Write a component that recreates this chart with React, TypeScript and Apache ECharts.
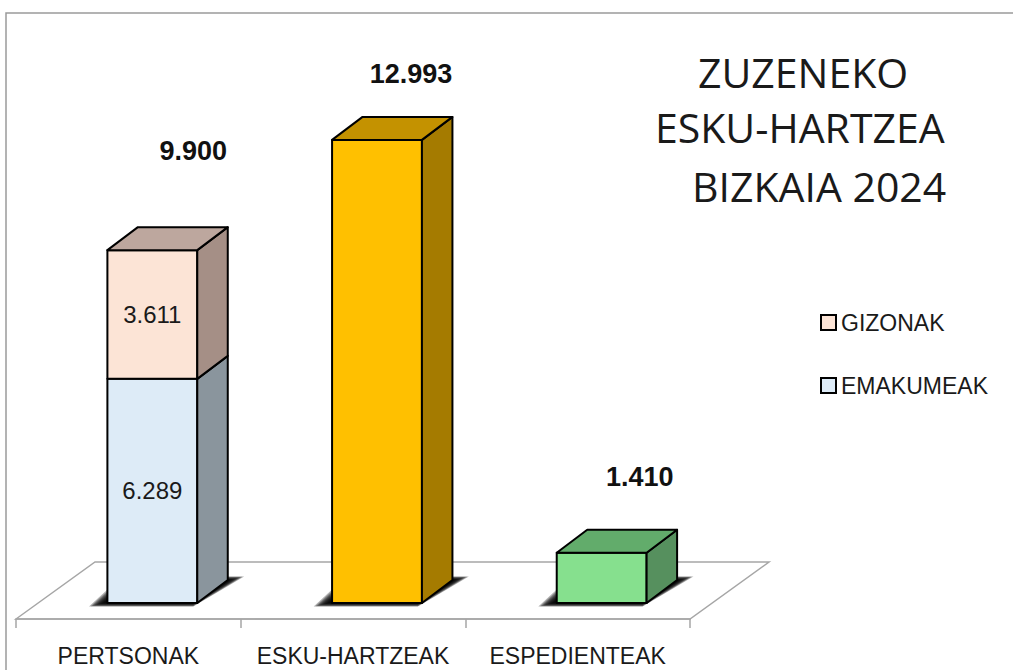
import React, { useEffect, useRef } from "react";
import * as echarts from "echarts";

// ---- data ----
const categories = ["PERTSONAK", "ESKU-HARTZEAK", "ESPEDIENTEAK"];
const emakumeak = [6289, null, null];
const gizonak = [3611, null, null];
const bakarrak = [null, 12993, 1410];
const titleLines = ["ZUZENEKO", "ESKU-HARTZEA", "BIZKAIA 2024"];
const legendNames = ["GIZONAK", "EMAKUMEAK"];

// ---- layout / style ----
const W = 1013;
const H = 670;
const BAR_GRID = { left: 40, width: 674, top: 104, bottom: 67 };
const FLOOR_GRID = { left: 16, width: 674, top: 104, bottom: 51 };
const FLOOR_DEPTH = { dx: 79, dy: -57 };
const BOX_DEPTH = { dx: 30.5, dy: -23 };
const Y_MAX = 14000;
const BAR_RATIO = 0.4;
const TOTAL_OFFSETS = [
  [41, -99],
  [34, -66],
  [38, -76],
];
const FLOOR_COLOR = "#a6a6a6";
const TEXT_COLOR = "#1a1a1a";
const SHADOW_LAYERS = 8;

const PINK = { front: "#FCE4D6", top: "#BDA79E", side: "#A58F86" };
const BLUE = { front: "#DDEBF7", top: "#A9B4BD", side: "#8A959D" };
const SINGLE_COLORS = [
  null,
  { front: "#FFC000", top: "#C49200", side: "#A57B00" },
  { front: "#86E08E", top: "#62AC6B", side: "#56905E" },
];

const fmt = (n: number) =>
  String(Math.round(n)).replace(/\B(?=(\d{3})+(?!\d))/g, ".");

type Face = { front: string; top: string; side: string };

function makeBox(
  api: any,
  face: Face,
  opts: { showTop: boolean; inner: boolean; total: boolean }
) {
  const cat = api.value(0);
  const v0 = api.value(1);
  const v1 = api.value(2);
  const pB = api.coord([cat, v0]);
  const pT = api.coord([cat, v1]);
  const band = api.size([1, 0])[0];
  const w = band * BAR_RATIO;
  const xL = pT[0] - w / 2;
  const xR = xL + w;
  const yT = pT[1];
  const yB = pB[1];
  const { dx, dy } = BOX_DEPTH;
  const stroke = { stroke: "#000", lineWidth: 2, lineJoin: "round" };
  const children: any[] = [];
  if (v0 === 0) {
    for (let k = SHADOW_LAYERS; k >= 0; k--) {
      const e = 2 + k * 1.8;
      const ev = k * 0.45;
      children.push({
        type: "polygon",
        shape: {
          points: [
            [xL - 2 - e, yB + ev],
            [xR - 4, yB + ev],
            [xR + dx + e, yB + dy - ev],
            [xL + dx - e, yB + dy - ev],
          ],
        },
        style: { fill: "rgba(0,0,0,0.3)" },
      });
    }
  }
  children.push({
    type: "rect",
    shape: { x: xL, y: yT, width: w, height: yB - yT },
    style: { fill: face.front, ...stroke },
  });
  children.push({
    type: "polygon",
    shape: {
      points: [
        [xR, yB],
        [xR + dx, yB + dy],
        [xR + dx, yT + dy],
        [xR, yT],
      ],
    },
    style: { fill: face.side, ...stroke },
  });
  if (opts.showTop) {
    children.push({
      type: "polygon",
      shape: {
        points: [
          [xL, yT],
          [xL + dx, yT + dy],
          [xR + dx, yT + dy],
          [xR, yT],
        ],
      },
      style: { fill: face.top, ...stroke },
    });
  }
  if (opts.inner) {
    children.push({
      type: "text",
      style: {
        text: fmt(v1 - v0),
        x: (xL + xR) / 2,
        y: (yT + yB) / 2,
        align: "center",
        verticalAlign: "middle",
        fontSize: 24,
        fontFamily: "Liberation Sans, Arial, sans-serif",
        fill: TEXT_COLOR,
      },
    });
  }
  if (opts.total) {
    const off = TOTAL_OFFSETS[cat];
    children.push({
      type: "text",
      style: {
        text: fmt(v1),
        x: (xL + xR) / 2 + off[0],
        y: yT + off[1],
        align: "center",
        verticalAlign: "middle",
        fontSize: 27,
        fontWeight: "bold",
        fontFamily: "Liberation Sans, Arial, sans-serif",
        fill: "#111",
      },
    });
  }
  return { type: "group", children };
}

export default function App() {
  const ref = useRef<HTMLDivElement>(null);
  useEffect(() => {
    if (!ref.current) return;
    const chart = echarts.init(ref.current, null, { renderer: "svg" });

    const emaData: any[] = [];
    const gizData: any[] = [];
    const singleData: any[] = [];
    categories.forEach((_, i) => {
      if (emakumeak[i] != null && gizonak[i] != null) {
        emaData.push([i, 0, emakumeak[i]]);
        gizData.push([i, emakumeak[i], (emakumeak[i] as number) + (gizonak[i] as number)]);
      }
      if (bakarrak[i] != null) singleData.push([i, 0, bakarrak[i]]);
    });

    const fl = FLOOR_GRID.left;
    const fr = FLOOR_GRID.left + FLOOR_GRID.width;
    const fy = H - FLOOR_GRID.bottom;

    const titleX = [698, 655, 692];
    const titleY = [72, 127, 186];

    chart.setOption({
      animation: false,
      backgroundColor: "#fff",
      grid: [
        { ...BAR_GRID, containLabel: false },
        { ...FLOOR_GRID, containLabel: false },
      ],
      xAxis: [
        { type: "category", data: categories, gridIndex: 0, show: false },
        {
          type: "category",
          data: categories,
          gridIndex: 1,
          axisLine: { show: true, lineStyle: { color: FLOOR_COLOR, width: 1.5 } },
          axisTick: { show: true, length: 9, lineStyle: { color: FLOOR_COLOR, width: 1.5 } },
          axisLabel: {
            interval: 0,
            hideOverlap: false,
            margin: 25,
            fontSize: 23,
            color: TEXT_COLOR,
            fontFamily: "Liberation Sans, Arial, sans-serif",
          },
          splitLine: { show: false },
        },
      ],
      yAxis: [
        { type: "value", min: 0, max: Y_MAX, gridIndex: 0, show: false },
        { type: "value", min: 0, max: 1, gridIndex: 1, show: false },
      ],
      legend: {
        orient: "vertical",
        left: 815,
        top: 306,
        itemWidth: 15,
        itemHeight: 15,
        itemGap: 40,
        icon: "rect",
        selectedMode: false,
        textStyle: {
          fontSize: 23,
          color: TEXT_COLOR,
          fontFamily: "Liberation Sans, Arial, sans-serif",
        },
        data: [
          { name: legendNames[0], itemStyle: { color: PINK.front, borderColor: "#000", borderWidth: 2 } },
          { name: legendNames[1], itemStyle: { color: BLUE.front, borderColor: "#000", borderWidth: 2 } },
        ],
      },
      graphic: [
        {
          type: "rect",
          z: -10,
          shape: { x: 6, y: 13, width: W + 50, height: H + 50 },
          style: { fill: "none", stroke: "#9a9a9a", lineWidth: 1.5 },
        },
        {
          type: "polygon",
          z: -5,
          shape: {
            points: [
              [fl, fy],
              [fl + FLOOR_DEPTH.dx, fy + FLOOR_DEPTH.dy],
              [fr + FLOOR_DEPTH.dx, fy + FLOOR_DEPTH.dy],
              [fr, fy],
            ],
          },
          style: { fill: "#fff", stroke: FLOOR_COLOR, lineWidth: 1.5 },
        },
        ...titleLines.map((t, i) => ({
          type: "text",
          x: titleX[i],
          y: titleY[i],
          style: {
            text: t,
            fontSize: 41,
            fontFamily: "Open Sans, sans-serif",
            fill: TEXT_COLOR,
            verticalAlign: "middle",
            align: "left",
          },
        })),
      ],
      series: [
        {
          name: "EMAKUMEAK",
          type: "custom",
          xAxisIndex: 0,
          yAxisIndex: 0,
          itemStyle: { color: BLUE.front, borderColor: "#000" },
          encode: { x: 0, y: [1, 2] },
          data: emaData,
          renderItem: (_p: any, api: any) =>
            makeBox(api, BLUE, { showTop: false, inner: true, total: false }),
        },
        {
          name: "GIZONAK",
          type: "custom",
          xAxisIndex: 0,
          yAxisIndex: 0,
          itemStyle: { color: PINK.front, borderColor: "#000" },
          encode: { x: 0, y: [1, 2] },
          data: gizData,
          renderItem: (_p: any, api: any) =>
            makeBox(api, PINK, { showTop: true, inner: true, total: true }),
        },
        {
          name: "BAKARRAK",
          type: "custom",
          xAxisIndex: 0,
          yAxisIndex: 0,
          encode: { x: 0, y: [1, 2] },
          data: singleData,
          renderItem: (_p: any, api: any) => {
            const c = SINGLE_COLORS[api.value(0)] as Face;
            return makeBox(api, c, { showTop: true, inner: false, total: true });
          },
        },
      ],
    });
    return () => chart.dispose();
  }, []);
  return (
    <div
      ref={ref}
      style={{ position: "absolute", left: 0, top: 0, width: W, height: H }}
    />
  );
}
